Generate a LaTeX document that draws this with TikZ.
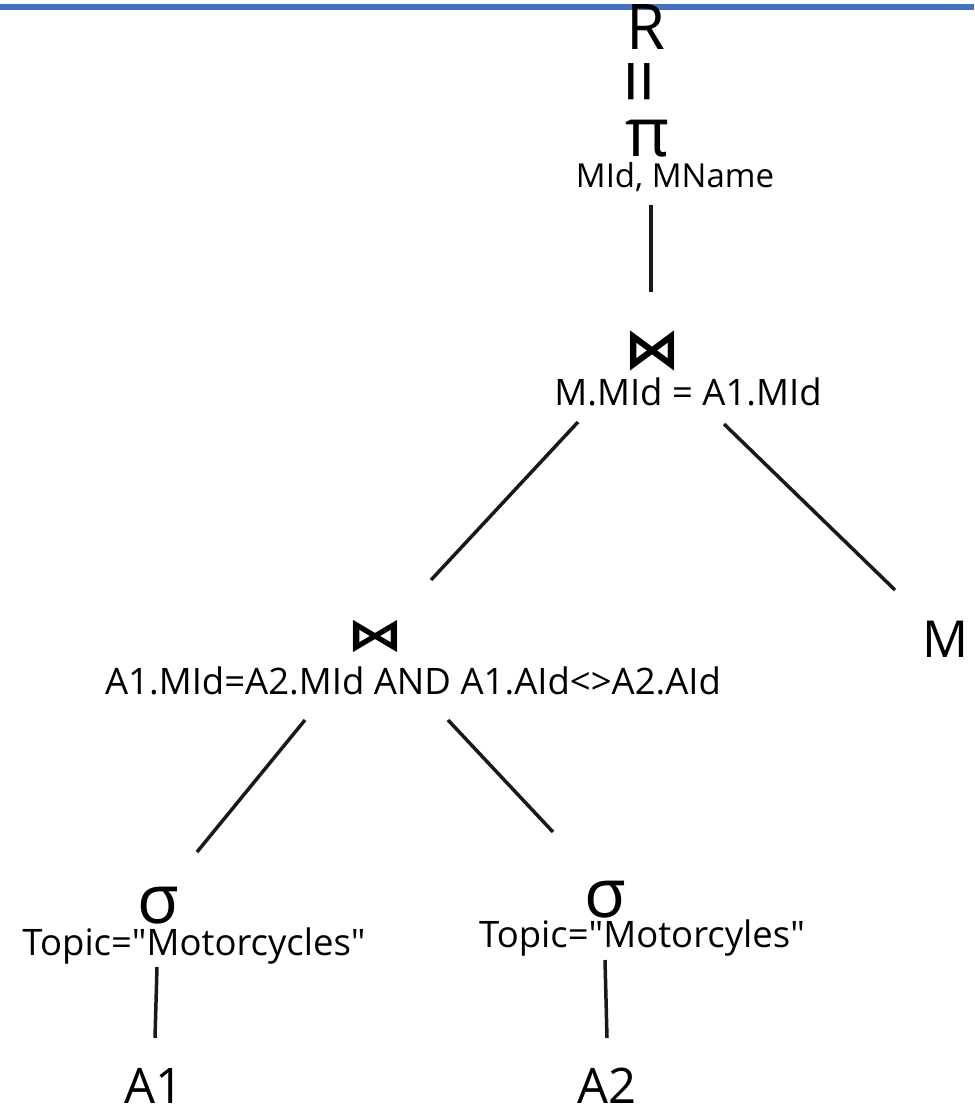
\documentclass[tikz,border=0pt]{standalone}
\usepackage{fontspec}
\setmainfont{Open Sans}[Ligatures=TeXOff]
\newfontfamily\symfont{DejaVu Sans}
\definecolor{topblue}{RGB}{68,114,196}
\begin{document}
\begin{tikzpicture}[x=1pt,y=-1pt,
  lbl/.style={inner sep=0pt, anchor=base, font=\fontsize{36.5}{42}\selectfont},
  big/.style={inner sep=0pt, anchor=base, font=\fontsize{49}{60}\selectfont},
  greek/.style={inner sep=0pt, anchor=base, font=\fontsize{68}{80}\selectfont},
  bow/.style={inner sep=0pt, anchor=center, font=\symfont\bfseries\fontsize{56}{60}\selectfont},
  edge/.style={line width=3.5pt, black!90}]
\useasboundingbox (0,0) rectangle (974,1110);
\fill[topblue] (0,4) rectangle (974,10);
% top
\node[inner sep=0pt, anchor=base, font=\fontsize{63}{70}\selectfont] (R) at (646,50) {R};
\node[inner sep=0pt, anchor=center, rotate=90, font=\fontsize{80}{80}\selectfont] (eq) at (648,82) {=};
\node[greek] (pi) at (648,157) {π};
\node[lbl, font=\fontsize{33}{40}\selectfont] (projattr) at (675,187) {MId, MName};
% join 1
\node[bow] (join1) at (652,351) {⋈};
\node[lbl] (join1cond) at (688,405) {M.MId = A1.MId};
% M
\node[big, font=\fontsize{51}{60}\selectfont] (M) at (946,657) {M};
% join 2
\node[bow] (join2) at (375,636) {\scalebox{1}[0.8]{⋈}};
\node[lbl] (join2cond) at (413,694) {A1.MId=A2.MId AND A1.AId<>A2.AId};
% selections
\node[greek] (sel1) at (158,923) {σ};
\node[lbl] (sel1cond) at (194,955) {Topic="Motorcycles"};
\node[greek] (sel2) at (605,917) {σ};
\node[lbl] (sel2cond) at (642,947) {Topic="Motorcyles"};
\node[big] (A1) at (154,1103) {A1};
\node[big] (A2) at (607,1103) {A2};
% connector ends
\coordinate (p1) at (651,205); \coordinate (p2) at (651,292);
\coordinate (l1) at (578,422); \coordinate (l2) at (431,580);
\coordinate (r1) at (724,424); \coordinate (r2) at (895,590);
\coordinate (ll1) at (305,720); \coordinate (ll2) at (197,852);
\coordinate (lr1) at (448,720); \coordinate (lr2) at (553,832);
\coordinate (s1a) at (157,967); \coordinate (s1b) at (155,1038);
\coordinate (s2a) at (605,960); \coordinate (s2b) at (607,1038);
\draw[edge] (p1) -- (p2);
\draw[edge] (l1) -- (l2);
\draw[edge] (r1) -- (r2);
\draw[edge] (ll1) -- (ll2);
\draw[edge] (lr1) -- (lr2);
\draw[edge] (s1a) -- (s1b);
\draw[edge] (s2a) -- (s2b);
\end{tikzpicture}
\end{document}
